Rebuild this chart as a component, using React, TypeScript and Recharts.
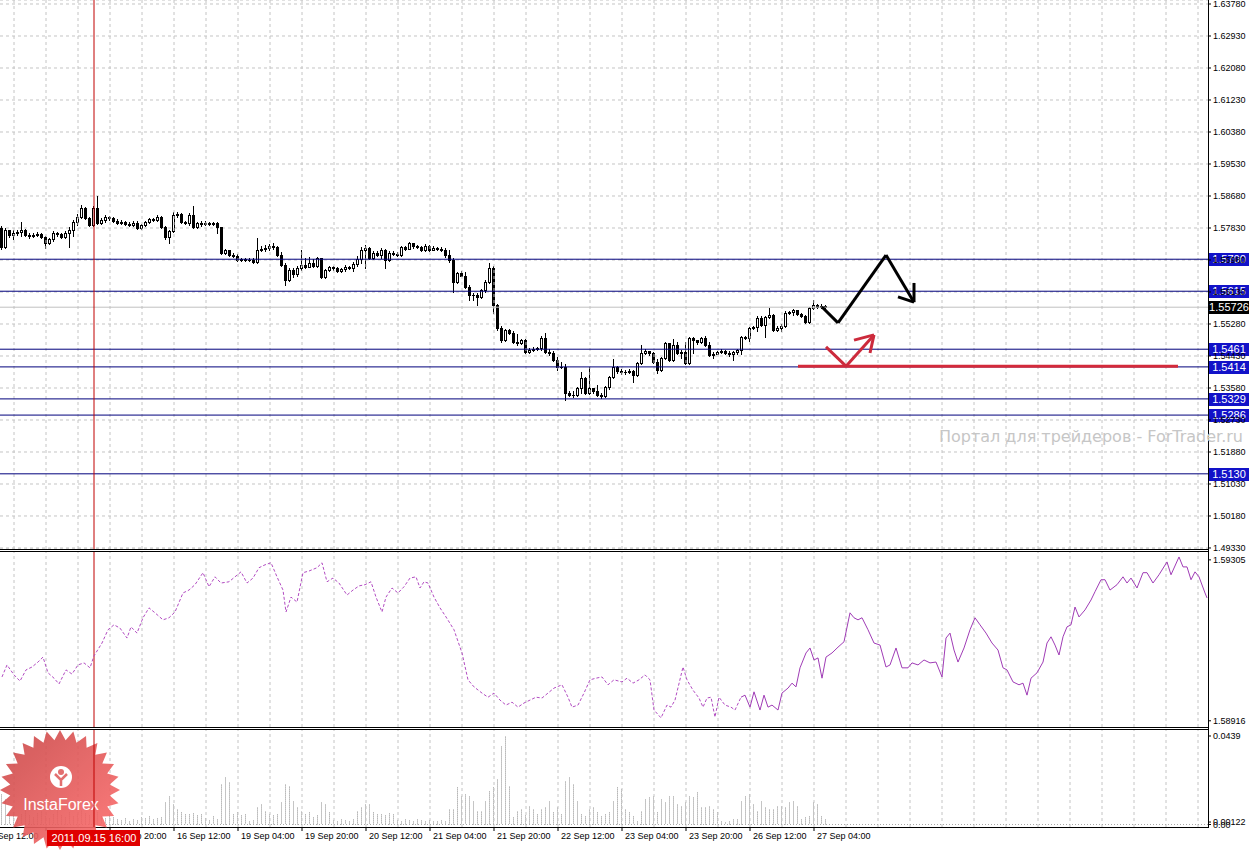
import React from "react";
import { ComposedChart, LineChart, BarChart, Bar, Line, XAxis, YAxis, CartesianGrid, ReferenceLine } from "recharts";

const FONT = "'Liberation Sans', Arial, sans-serif";
const W = 1250;
const AXIS_W = 42;
const SLOTS = 302; // hourly slots across the plot
const BAR_PX = (W - AXIS_W) / SLOTS;

// H1 candles, index = hour slot from the left edge
const firstOpen = 1.5783;
const closes = [
  1.5732, 1.5778, 1.5764, 1.577, 1.5772, 1.5778, 1.5764, 1.5762, 1.5764, 1.5767,
  1.5759, 1.5743, 1.5754, 1.577, 1.5767, 1.5759, 1.577, 1.5778, 1.5799, 1.5812,
  1.5836, 1.581, 1.5791, 1.5836, 1.5796, 1.5804, 1.5812, 1.581, 1.5802, 1.5796,
  1.5799, 1.5794, 1.5791, 1.5796, 1.5783, 1.5791, 1.5799, 1.5807, 1.5804, 1.5812,
  1.5786, 1.5759, 1.5775, 1.5818, 1.582, 1.5799, 1.5796, 1.5818, 1.5786, 1.5796,
  1.5794, 1.5796, 1.5794, 1.5796, 1.5786, 1.5717, 1.5725, 1.5711, 1.5709, 1.5698,
  1.5701, 1.5698, 1.5698, 1.5693, 1.5725, 1.5727, 1.573, 1.5735, 1.5732, 1.5711,
  1.5685, 1.5645, 1.5671, 1.5661, 1.5677, 1.5685, 1.5679, 1.569, 1.5682, 1.5703,
  1.5653, 1.5671, 1.5679, 1.5677, 1.5669, 1.5674, 1.5679, 1.5677, 1.5687, 1.5701,
  1.5725, 1.573, 1.5703, 1.5717, 1.5711, 1.5725, 1.5698, 1.5717, 1.5714, 1.5711,
  1.5732, 1.5727, 1.5743, 1.5735, 1.5732, 1.5725, 1.5735, 1.5725, 1.573, 1.5727,
  1.5725, 1.5711, 1.5698, 1.5639, 1.5663, 1.5655, 1.5626, 1.5605, 1.5605, 1.56,
  1.5618, 1.5639, 1.5677, 1.5578, 1.5517, 1.5485, 1.5512, 1.5504, 1.548, 1.5477,
  1.5485, 1.5454, 1.5459, 1.5462, 1.5464, 1.5491, 1.5454, 1.5451, 1.5432, 1.5414,
  1.5414, 1.5345, 1.5339, 1.5339, 1.5358, 1.5384, 1.5345, 1.5358, 1.535, 1.5339,
  1.5337, 1.5361, 1.5387, 1.5414, 1.5403, 1.54, 1.54, 1.5403, 1.5392, 1.5424,
  1.5451, 1.5456, 1.5451, 1.5427, 1.5406, 1.5438, 1.5477, 1.5432, 1.5472, 1.5451,
  1.5454, 1.5424, 1.5491, 1.5485, 1.548, 1.5491, 1.5472, 1.5446, 1.5448, 1.5454,
  1.5456, 1.5451, 1.5448, 1.5454, 1.5459, 1.5493, 1.5491, 1.5517, 1.552, 1.5544,
  1.5525, 1.5547, 1.5552, 1.5512, 1.5517, 1.5523, 1.5557, 1.556, 1.5565, 1.5554,
  1.5549, 1.5533, 1.557, 1.5578, 1.5573, 1.5576, 1.5573,
];
const highs = [
  1.5788, 1.5783, 1.5775, 1.5778, 1.5778, 1.5799, 1.578, 1.577, 1.577, 1.5772,
  1.577, 1.5762, 1.5756, 1.5775, 1.5772, 1.577, 1.5775, 1.5786, 1.5804, 1.582,
  1.5844, 1.5839, 1.5812, 1.5841, 1.5868, 1.581, 1.5818, 1.5815, 1.5812, 1.5807,
  1.5804, 1.5802, 1.5799, 1.5802, 1.5802, 1.5794, 1.5802, 1.581, 1.581, 1.5818,
  1.5815, 1.5788, 1.5778, 1.5825, 1.5825, 1.5823, 1.5802, 1.5823, 1.5841, 1.5799,
  1.5802, 1.5802, 1.5799, 1.5799, 1.5799, 1.5762, 1.5727, 1.5725, 1.5717, 1.5714,
  1.5703, 1.5703, 1.5703, 1.5703, 1.5756, 1.5735, 1.5738, 1.574, 1.5743, 1.5735,
  1.5719, 1.569, 1.5677, 1.5677, 1.5682, 1.5725, 1.5703, 1.5706, 1.5701, 1.5706,
  1.5703, 1.5674, 1.5682, 1.5682, 1.5679, 1.5677, 1.5685, 1.5682, 1.5693, 1.5709,
  1.5732, 1.5738, 1.5732, 1.5722, 1.5722, 1.573, 1.5727, 1.5722, 1.5722, 1.5719,
  1.5735, 1.5735, 1.5746, 1.5743, 1.5738, 1.5735, 1.574, 1.5738, 1.5735, 1.5732,
  1.5732, 1.573, 1.5725, 1.5703, 1.5666, 1.5669, 1.5666, 1.5632, 1.561, 1.561,
  1.5621, 1.5645, 1.569, 1.5682, 1.5581, 1.5523, 1.5515, 1.5515, 1.5509, 1.5501,
  1.5488, 1.5488, 1.5464, 1.5467, 1.5467, 1.5496, 1.5504, 1.5462, 1.5456, 1.544,
  1.5427, 1.5422, 1.535, 1.535, 1.5361, 1.54, 1.5387, 1.5414, 1.5358, 1.5366,
  1.5345, 1.5363, 1.539, 1.5435, 1.5416, 1.5408, 1.5406, 1.5408, 1.5406, 1.5427,
  1.5472, 1.5462, 1.5456, 1.5454, 1.5435, 1.544, 1.548, 1.5467, 1.5488, 1.548,
  1.5459, 1.548, 1.5493, 1.5493, 1.5485, 1.5493, 1.5496, 1.548, 1.5454, 1.5456,
  1.5462, 1.5459, 1.5456, 1.5456, 1.5462, 1.5496, 1.5496, 1.552, 1.5523, 1.5549,
  1.5549, 1.5549, 1.557, 1.5554, 1.5523, 1.5528, 1.5562, 1.5562, 1.5568, 1.5562,
  1.5557, 1.5552, 1.5573, 1.5592, 1.5581, 1.5581, 1.5578,
];
const lows = [
  1.5727, 1.573, 1.5759, 1.5754, 1.5764, 1.5762, 1.5762, 1.5756, 1.5759, 1.5762,
  1.5756, 1.573, 1.574, 1.5748, 1.5762, 1.5756, 1.5756, 1.5732, 1.5762, 1.5791,
  1.581, 1.5807, 1.5788, 1.5788, 1.5794, 1.5794, 1.5799, 1.5804, 1.5799, 1.5794,
  1.5794, 1.5791, 1.5788, 1.5788, 1.578, 1.578, 1.5788, 1.5796, 1.5802, 1.5802,
  1.5783, 1.5754, 1.5743, 1.5772, 1.5812, 1.5796, 1.5794, 1.5791, 1.5783, 1.5783,
  1.5788, 1.5791, 1.5791, 1.5791, 1.577, 1.5714, 1.5714, 1.5709, 1.5706, 1.5695,
  1.5695, 1.5695, 1.5695, 1.569, 1.569, 1.5722, 1.5722, 1.5725, 1.5727, 1.5709,
  1.5682, 1.5632, 1.5642, 1.5653, 1.5655, 1.5671, 1.5677, 1.5685, 1.5679, 1.5679,
  1.565, 1.565, 1.5669, 1.5671, 1.5666, 1.5666, 1.5669, 1.5674, 1.5669, 1.5682,
  1.569, 1.5677, 1.5701, 1.5701, 1.5709, 1.5703, 1.5677, 1.5695, 1.5711, 1.5709,
  1.5709, 1.5725, 1.5727, 1.573, 1.573, 1.5722, 1.5722, 1.5722, 1.5725, 1.5725,
  1.5722, 1.5706, 1.5693, 1.5613, 1.5637, 1.5655, 1.5624, 1.5592, 1.5592, 1.5578,
  1.5597, 1.5613, 1.5637, 1.5557, 1.5512, 1.548, 1.5483, 1.5501, 1.5477, 1.5472,
  1.5475, 1.5451, 1.5451, 1.5456, 1.5459, 1.5459, 1.5451, 1.5446, 1.543, 1.5406,
  1.5411, 1.5326, 1.5337, 1.5334, 1.5337, 1.5345, 1.5342, 1.5342, 1.5345, 1.5337,
  1.5331, 1.5334, 1.5355, 1.5384, 1.5398, 1.5395, 1.5395, 1.5398, 1.5374, 1.539,
  1.5422, 1.5448, 1.5446, 1.5424, 1.5398, 1.5403, 1.5435, 1.543, 1.543, 1.5448,
  1.5438, 1.5422, 1.5422, 1.5451, 1.5475, 1.5477, 1.547, 1.5443, 1.5438, 1.5448,
  1.5451, 1.5448, 1.5443, 1.5432, 1.5448, 1.5448, 1.5488, 1.5483, 1.5515, 1.5509,
  1.5523, 1.5493, 1.5544, 1.5509, 1.5509, 1.5509, 1.552, 1.5554, 1.5552, 1.5552,
  1.5547, 1.5531, 1.5531, 1.5568, 1.557, 1.557, 1.557,
];

// lower window histogram
const volumes = [
  0.0149, 0.0124, 0.004, 0.006, 0.003, 0.005, 0.0069, 0.0045, 0.0035, 0.0055,
  0.0064, 0.004, 0.003, 0.005, 0.0074, 0.0045, 0.0035, 0.006, 0.004, 0.005,
  0.0069, 0.0055, 0.0045, 0.0089, 0.006, 0.004, 0.003, 0.005, 0.0035, 0.0025,
  0.002, 0.003, 0.0015, 0.0025, 0.002, 0.0035, 0.003, 0.004, 0.0025, 0.003,
  0.0035, 0.0109, 0.0139, 0.0099, 0.0074, 0.006, 0.005, 0.005, 0.0055, 0.0045,
  0.005, 0.003, 0.002, 0.004, 0.0025, 0.0198, 0.0233, 0.0208, 0.005, 0.006,
  0.0045, 0.005, 0.0015, 0.002, 0.0084, 0.0099, 0.0064, 0.005, 0.0045, 0.005,
  0.0109, 0.0198, 0.0188, 0.0114, 0.0084, 0.0064, 0.005, 0.006, 0.0035, 0.0045,
  0.0109, 0.0099, 0.006, 0.002, 0.0015, 0.0025, 0.002, 0.0015, 0.0025, 0.0064,
  0.0084, 0.0099, 0.0099, 0.006, 0.005, 0.005, 0.0045, 0.0055, 0.005, 0.002,
  0.0015, 0.0025, 0.002, 0.0015, 0.0025, 0.002, 0.0015, 0.002, 0.0015, 0.0015,
  0.002, 0.0015, 0.0074, 0.0074, 0.0184, 0.0139, 0.0149, 0.0139, 0.0114, 0.0064,
  0.0064, 0.0114, 0.0164, 0.0184, 0.0223, 0.0387, 0.0436, 0.0188, 0.0035, 0.0064,
  0.0074, 0.0045, 0.0089, 0.0074, 0.005, 0.0074, 0.0084, 0.0114, 0.006, 0.0084,
  0.005, 0.0213, 0.0233, 0.0198, 0.0114, 0.005, 0.004, 0.0074, 0.0084, 0.006,
  0.004, 0.005, 0.006, 0.0114, 0.0184, 0.0174, 0.0074, 0.006, 0.004, 0.0015,
  0.0064, 0.0124, 0.0134, 0.0139, 0.006, 0.0124, 0.0109, 0.0139, 0.0139, 0.0099,
  0.0089, 0.0109, 0.0139, 0.0134, 0.0159, 0.0084, 0.0084, 0.0089, 0.0074, 0.006,
  0.0015, 0.001, 0.0015, 0.0025, 0.0025, 0.0114, 0.0139, 0.0149, 0.0099, 0.0064,
  0.0114, 0.0084, 0.0074, 0.0074, 0.0089, 0.0089, 0.0084, 0.0109, 0.0114, 0.0089,
  0.0025, 0.0035, 0.004, 0.0109, 0.0099, 0.004, 0.0025,
];

// middle window overlay line [slot, value]; dashed part then solid part
const overlayDashed = [
  [0.5, 1.59022], [1.75, 1.59051], [3.5, 1.59027], [5, 1.59012], [6.5, 1.59039], [8, 1.59046], [9.5, 1.59058],
  [10.75, 1.5907], [12, 1.59032], [13.5, 1.59019], [14.75, 1.59005], [16.5, 1.59039], [18, 1.59029], [19.5, 1.59051],
  [21, 1.59056], [22.5, 1.59044], [23.5, 1.59073], [25.5, 1.59104], [27, 1.59136], [28.5, 1.59148], [30, 1.5914],
  [31.75, 1.59116], [32.75, 1.59143], [34.25, 1.59128], [35.75, 1.59165], [37.25, 1.59189], [38.75, 1.59177],
  [40.75, 1.5916], [42.25, 1.59165], [43.75, 1.59179], [45.75, 1.59225], [47.25, 1.59232], [48.75, 1.59245],
  [50.75, 1.59274], [52.25, 1.5924], [53.75, 1.59264], [55.25, 1.59249], [57.25, 1.59252], [58.75, 1.59264],
  [60.25, 1.59276], [61.75, 1.59249], [63.25, 1.59261], [64.75, 1.59286], [66.25, 1.59293], [67.75, 1.59298],
  [69.25, 1.59264], [70.75, 1.59232], [71.5, 1.59179], [72.75, 1.59215], [74.25, 1.59203], [75.75, 1.59274],
  [77.25, 1.59278], [79.25, 1.59286], [80.5, 1.59298], [81.75, 1.59252], [83.25, 1.59261], [84.75, 1.59249],
  [86.75, 1.5922], [88.25, 1.59232], [89.75, 1.59242], [91.25, 1.59245], [92.75, 1.59252], [94, 1.59215],
  [95.5, 1.59179], [96.5, 1.59215], [98, 1.59237], [99.5, 1.59225], [101, 1.5924], [102.5, 1.59261], [104, 1.59264],
  [105, 1.59237], [106, 1.59252], [107, 1.59249], [108.5, 1.59215], [110, 1.59189], [111.5, 1.59167], [113.5, 1.59136],
  [115.5, 1.5908], [117, 1.59015], [118.5, 1.58998], [120.5, 1.58983], [122, 1.58973], [123.5, 1.58983], [125, 1.58966],
  [126.5, 1.58954], [128, 1.58961], [129.5, 1.58949], [131, 1.58959], [132.5, 1.58966], [134, 1.58973], [135.5, 1.58971],
  [137, 1.58983], [138.5, 1.58995], [140.5, 1.59003], [142, 1.58973], [143, 1.58949], [144.5, 1.58954], [146, 1.58983],
  [147.5, 1.59015], [149, 1.59019], [150.5, 1.59022], [152, 1.59003], [153.5, 1.59015], [155.5, 1.5901], [156.75, 1.59019],
  [158.25, 1.59007], [159.75, 1.59015], [161.25, 1.59027], [162.5, 1.59015], [163.5, 1.58942], [165.25, 1.58923],
  [166.75, 1.58954], [167.75, 1.58949], [168.75, 1.58966], [170.75, 1.59046], [171.75, 1.59015], [173.25, 1.5899],
  [174.75, 1.58971], [175.75, 1.58949], [176.75, 1.58971], [177.75, 1.58973], [178.75, 1.58925], [179.75, 1.58973],
  [181.25, 1.58954], [182.75, 1.58949], [183.75, 1.58942], [185.25, 1.58973],
];
const overlaySolid = [
  [185.25, 1.58973], [186.25, 1.58978], [187.5, 1.58949], [188.5, 1.58986], [190, 1.58942], [191, 1.58978], [192, 1.58949],
  [193, 1.58954], [194.5, 1.58942], [195.5, 1.58983], [197, 1.58995], [198, 1.59007], [199, 1.58998], [200, 1.59044],
  [201.5, 1.5908], [202.5, 1.59092], [203.5, 1.59063], [204.5, 1.59068], [205.5, 1.59019], [206.5, 1.5907], [208, 1.5908],
  [209.5, 1.59094], [211, 1.59107], [212.5, 1.59177], [213.5, 1.59165], [214.5, 1.5916], [215.5, 1.59165], [217, 1.59136],
  [218.5, 1.59104], [220, 1.59099], [221.5, 1.59046], [222.5, 1.59051], [224, 1.59092], [225.5, 1.59044], [227, 1.59044],
  [228, 1.59056], [229.5, 1.59051], [231, 1.59063], [232.5, 1.59056], [234, 1.59058], [235.5, 1.59022], [236.5, 1.59116],
  [237.5, 1.59128], [238.5, 1.59087], [239.5, 1.59058], [241, 1.59092], [242.5, 1.59136], [243.75, 1.59165], [245, 1.59148],
  [246.5, 1.59128], [248, 1.59104], [249.5, 1.59087], [250.75, 1.59044], [251.75, 1.59039], [253.25, 1.5901], [254.75, 1.59003],
  [255.75, 1.59007], [256.75, 1.58978], [257.75, 1.59019], [259.25, 1.59032], [260.75, 1.59058], [261.75, 1.59104],
  [262.75, 1.59119], [263.75, 1.59099], [264.75, 1.59075], [265.75, 1.59119], [266.75, 1.59143], [267.75, 1.59148],
  [268.75, 1.59191], [269.75, 1.59167], [271.25, 1.59184], [272.75, 1.59208], [273.75, 1.59228], [275.25, 1.59257],
  [276.25, 1.59257], [277.5, 1.59232], [279.25, 1.59245], [280.75, 1.59264], [281.75, 1.59249], [282.75, 1.59261],
  [284.25, 1.59237], [285.75, 1.59274], [286.75, 1.59274], [288.25, 1.59249], [289.75, 1.59269], [291.75, 1.593],
  [292.75, 1.59269], [294.75, 1.59312], [295.75, 1.59288], [296.75, 1.59288], [297.75, 1.59257], [298.75, 1.59276],
  [299.75, 1.59264], [301.25, 1.59225], [301.75, 1.59213],
];

const priceTicks = [
  1.6378, 1.6293, 1.6208, 1.6123, 1.6038, 1.5953, 1.5868, 1.5783, 1.5698,
  1.5613, 1.5528, 1.5443, 1.5358, 1.5273, 1.5188, 1.5103, 1.5018, 1.4933,
];
const levels = [1.57, 1.5615, 1.5461, 1.5414, 1.5329, 1.5286, 1.513];
const lastPrice = 1.55726;
const overlayTicks = [1.58916, 1.59305];
const volTicks = [0, 0.00122, 0.0439];
const volTickText = ["0.00", "0.00122", "0.0439"];

const timeTickSlots = [-5, 11, 27, 43, 59, 75, 91, 107, 123, 139, 155, 171, 187, 203];
const timeLabels = [
  "14 Sep 12:00", "15 Sep 04:00", "15 Sep 20:00", "16 Sep 12:00", "19 Sep 04:00", "19 Sep 20:00", "20 Sep 12:00",
  "21 Sep 04:00", "21 Sep 20:00", "22 Sep 12:00", "23 Sep 04:00", "23 Sep 20:00", "26 Sep 12:00", "27 Sep 04:00",
];
const crossSlot = 23;
const crossTime = "2011.09.15 16:00";

// drawn arrows: [slot, price]
const blackPath = [[205, 1.5573], [209, 1.5531], [221, 1.5711], [228, 1.5586]];
const blackHead = [[224, 1.56], [228, 1.5586], [228, 1.5637]];
const redPath = [[206, 1.5467], [211, 1.5416], [218, 1.5499]];
const redHead = [[213, 1.5485], [218, 1.5499], [217, 1.5451]];
const redLevel = [[199, 1.5416], [294, 1.5416]];

const gridSlots = Array.from({ length: 38 }, (_, k) => 3 + 8 * k);

const candleRows = Array.from({ length: SLOTS }, (_, i) => {
  if (i >= closes.length) return { i };
  const open = i === 0 ? firstOpen : closes[i - 1];
  const close = closes[i];
  const high = Math.max(highs[i], open, close);
  const low = Math.min(lows[i], open, close);
  return { i, open, close, high, low, range: [low, high] };
});
const volRows = Array.from({ length: SLOTS }, (_, i) => ({ i, vol: volumes[i] }));
const dashRows = overlayDashed.map(([x, v]) => ({ x, v }));
const solidRows = overlaySolid.map(([x, v]) => ({ x, v }));

const Candle = (props: any) => {
  const { x, y, width, height, payload } = props;
  if (!payload || payload.close == null) return null;
  const { open, close, high, low } = payload;
  const top0 = Math.min(y, y + height);
  const h = Math.abs(height);
  const cx = Math.floor(x + width / 2) + 0.5;
  const py = (p: number) => (high === low ? top0 : top0 + ((high - p) / (high - low)) * h);
  const top = Math.round(py(Math.max(open, close))) + 0.5;
  const bot = Math.round(py(Math.min(open, close))) + 0.5;
  return (
    <g>
      <line x1={cx} x2={cx} y1={Math.round(top0)} y2={Math.round(top0 + h) + 1} stroke="#000" />
      {bot - top < 1 ? (
        <line x1={cx - 1.5} x2={cx + 1.5} y1={top} y2={top} stroke="#000" />
      ) : (
        <rect x={cx - 1} y={top} width={2} height={bot - top} fill={close >= open ? "#fff" : "#000"} stroke="#000" />
      )}
    </g>
  );
};

const VolBar = (props: any) => {
  const { x, y, width, height } = props;
  if (!height) return null;
  const cx = Math.floor(x + width / 2) + 0.5;
  return <line x1={cx} x2={cx} y1={y} y2={y + height} stroke="#8a8a8a" strokeDasharray="1 1" />;
};

const PriceTag = ({ viewBox, text, bg }: any) => {
  if (!viewBox) return null;
  const x = viewBox.x + viewBox.width + 1;
  return (
    <g>
      <rect x={x} y={Math.round(viewBox.y) - 6} width={40} height={13} fill={bg} />
      <text x={x + 20} y={viewBox.y} dy="0.36em" textAnchor="middle" fill="#fff" fontSize={11} fontFamily={FONT}>
        {text}
      </text>
    </g>
  );
};

const DateTag = ({ viewBox }: any) => {
  if (!viewBox) return null;
  const top = viewBox.y + viewBox.height + 3;
  return (
    <g>
      <rect x={viewBox.x - 47} y={top} width={93} height={16} fill="#e00000" />
      <text x={viewBox.x} y={top + 8} dy="0.36em" textAnchor="middle" fill="#fff" fontSize={11} fontFamily={FONT}>
        {crossTime}
      </text>
    </g>
  );
};

const TimeTick = (props: any) => {
  const { x, y, payload } = props;
  const k = timeTickSlots.indexOf(payload.value);
  if (k < 0) return null;
  const style = { fontSize: 9, fontFamily: FONT, fill: "#000" };
  return (
    <g>
      <text x={x + 3} y={y} dy="0.71em" {...style}>{timeLabels[k]}</text>
      {k === 1 && (
        <text x={x + 3 - (timeTickSlots[1] - timeTickSlots[0]) * BAR_PX} y={y} dy="0.71em" {...style}>
          {timeLabels[0]}
        </text>
      )}
    </g>
  );
};

const segs = (pts: number[][]) => pts.slice(1).map((p, k) => [pts[k], p]);
const gridStroke = { stroke: "#c4c4c4", strokeDasharray: "3 3" };
const axisTick = { fill: "#000", fontSize: 9, fontFamily: FONT };

const starPoints = Array.from({ length: 56 }, (_, k) => {
  const r = k % 2 ? 50 : 60;
  const a = (k / 56) * Math.PI * 2 - Math.PI / 2;
  return `${60 + r * Math.cos(a)},${60 + r * Math.sin(a)}`;
}).join(" ");

export default function App() {
  return (
    <div style={{ position: "absolute", left: 0, top: 0, width: W, height: 852, background: "#fff", overflow: "hidden", fontFamily: FONT }}>
      <div style={{ position: "absolute", left: 0, top: 0 }}>
        <ComposedChart width={W} height={556} data={candleRows} margin={{ top: 0, right: 0, bottom: 7, left: 0 }} barCategoryGap={0}>
          <CartesianGrid vertical={false} {...gridStroke} />
          <XAxis dataKey="i" type="category" hide height={0} />
          <YAxis orientation="right" width={AXIS_W} domain={[1.49303, 1.63886]} allowDataOverflow ticks={priceTicks}
            interval={0} tickFormatter={(v: number) => v.toFixed(5)} tick={axisTick} tickSize={3} tickMargin={2}
            axisLine={false} tickLine={{ stroke: "#000" }} />
          {gridSlots.map((s) => <ReferenceLine key={s} x={s} {...gridStroke} />)}
          <Bar dataKey="range" barSize={4} isAnimationActive={false} shape={(p: any) => <Candle {...p} />} />
          <ReferenceLine y={lastPrice} stroke="#c0c0c0"
            label={(p: any) => <PriceTag viewBox={p.viewBox} text={lastPrice.toFixed(5)} bg="#000" />} />
          {levels.map((lv) => (
            <ReferenceLine key={lv} y={lv} stroke="#00007c"
              label={(p: any) => <PriceTag viewBox={p.viewBox} text={lv.toFixed(4)} bg="#1212c8" />} />
          ))}
          <ReferenceLine x={crossSlot} stroke="#c00000" />
          {segs(redLevel).map(([a, b], k) => (
            <ReferenceLine key={"rl" + k} segment={[{ x: a[0], y: a[1] }, { x: b[0], y: b[1] }]} stroke="#d42a3a" strokeWidth={3} />
          ))}
          {[...segs(redPath), ...segs(redHead)].map(([a, b], k) => (
            <ReferenceLine key={"r" + k} segment={[{ x: a[0], y: a[1] }, { x: b[0], y: b[1] }]} stroke="#cc2a3c" strokeWidth={3} />
          ))}
          {[...segs(blackPath), ...segs(blackHead)].map(([a, b], k) => (
            <ReferenceLine key={"b" + k} segment={[{ x: a[0], y: a[1] }, { x: b[0], y: b[1] }]} stroke="#000" strokeWidth={3} />
          ))}
        </ComposedChart>
      </div>

      <div style={{ position: "absolute", left: 0, top: 551 }}>
        <LineChart width={W} height={176} margin={{ top: 1, right: 0, bottom: 0, left: 0 }}>
          <XAxis dataKey="x" type="number" domain={[0, SLOTS]} allowDataOverflow hide height={0} />
          <YAxis orientation="right" width={AXIS_W} domain={[1.58901, 1.59324]} allowDataOverflow ticks={overlayTicks}
            interval={0} tickFormatter={(v: number) => v.toFixed(5)} tick={axisTick} tickSize={3} tickMargin={2}
            axisLine={false} tickLine={{ stroke: "#000" }} />
          {gridSlots.map((s) => <ReferenceLine key={s} x={s + 0.5} {...gridStroke} />)}
          <ReferenceLine x={crossSlot + 0.5} stroke="#c00000" />
          <Line data={dashRows} dataKey="v" stroke="#b24cc2" strokeDasharray="3 2" strokeWidth={1} dot={false} isAnimationActive={false} />
          <Line data={solidRows} dataKey="v" stroke="#a03cb6" strokeWidth={1} dot={false} isAnimationActive={false} />
        </LineChart>
      </div>

      <div style={{ position: "absolute", left: 0, top: 729 }}>
        <BarChart width={W} height={123} data={volRows} margin={{ top: 1, right: 0, bottom: 0, left: 0 }} barCategoryGap={0}>
          <XAxis dataKey="i" type="category" height={25} ticks={timeTickSlots.filter((s) => s >= 0)} interval={0}
            tick={(p: any) => <TimeTick {...p} />} tickSize={4} tickMargin={2} axisLine={false} tickLine={{ stroke: "#000" }} />
          <YAxis orientation="right" width={AXIS_W} domain={[-0.00124, 0.04687]} allowDataOverflow ticks={volTicks}
            interval={0} tickFormatter={(v: number) => volTickText[volTicks.indexOf(v)] ?? String(v)} tick={axisTick}
            tickSize={3} tickMargin={2} axisLine={false} tickLine={{ stroke: "#000" }} />
          {gridSlots.map((s) => <ReferenceLine key={s} x={s} {...gridStroke} />)}
          <ReferenceLine y={0} stroke="#a8a8a8" strokeDasharray="1 2" />
          <Bar dataKey="vol" barSize={4} isAnimationActive={false} shape={(p: any) => <VolBar {...p} />} />
        </BarChart>
      </div>

      <svg width={W} height={852} style={{ position: "absolute", left: 0, top: 0, pointerEvents: "none" }}>
        <line x1={0} x2={1209} y1={549.5} y2={549.5} stroke="#000" />
        <line x1={0} x2={1209} y1={551.5} y2={551.5} stroke="#000" />
        <line x1={0} x2={1209} y1={727.5} y2={727.5} stroke="#000" />
        <line x1={0} x2={1209} y1={729.5} y2={729.5} stroke="#000" />
        <line x1={0} x2={1209} y1={827.5} y2={827.5} stroke="#000" />
        <line x1={1208.5} x2={1208.5} y1={0} y2={828} stroke="#000" />
      </svg>

      <div style={{ position: "absolute", left: 860, top: 427, width: 383, textAlign: "right", fontSize: 16, fontFamily: "'DejaVu Sans', sans-serif", color: "#c6c6c6", whiteSpace: "nowrap" }}>
        Портал для трейдеров - ForTrader.ru
      </div>

      <svg width={122} height={122} style={{ position: "absolute", left: 0, top: 730, opacity: 0.9 }}>
        <defs>
          <linearGradient id="seal" x1="0" y1="0" x2="1" y2="1">
            <stop offset="0" stopColor="#c94848" />
            <stop offset="1" stopColor="#ff6e6e" />
          </linearGradient>
        </defs>
        <polygon points={starPoints} fill="url(#seal)" />
        <circle cx={61} cy={47} r={11} fill="#fff" />
        <circle cx={61} cy={42} r={3} fill="#e06060" />
        <path d="M55 44 L61 50 L67 44 M61 50 L61 56" stroke="#e06060" strokeWidth={2.5} fill="none" />
        <text x={61} y={80} textAnchor="middle" fill="#fff" fontSize={16} fontFamily={FONT}>InstaForex</text>
      </svg>

      {/* crosshair line and its time tag, kept above the seal */}
      <div style={{ position: "absolute", left: 0, top: 729, pointerEvents: "none" }}>
        <BarChart width={W} height={123} data={volRows} margin={{ top: 1, right: 0, bottom: 0, left: 0 }} barCategoryGap={0}>
          <XAxis dataKey="i" type="category" height={25} tick={false} tickLine={false} axisLine={false} />
          <YAxis orientation="right" width={AXIS_W} domain={[-0.00124, 0.04687]} allowDataOverflow tick={false} tickLine={false} axisLine={false} />
          <Bar dataKey="vol" barSize={4} isAnimationActive={false} shape={() => null} />
          <ReferenceLine x={crossSlot} stroke="#c00000" label={(p: any) => <DateTag viewBox={p.viewBox} />} />
        </BarChart>
      </div>
    </div>
  );
}
